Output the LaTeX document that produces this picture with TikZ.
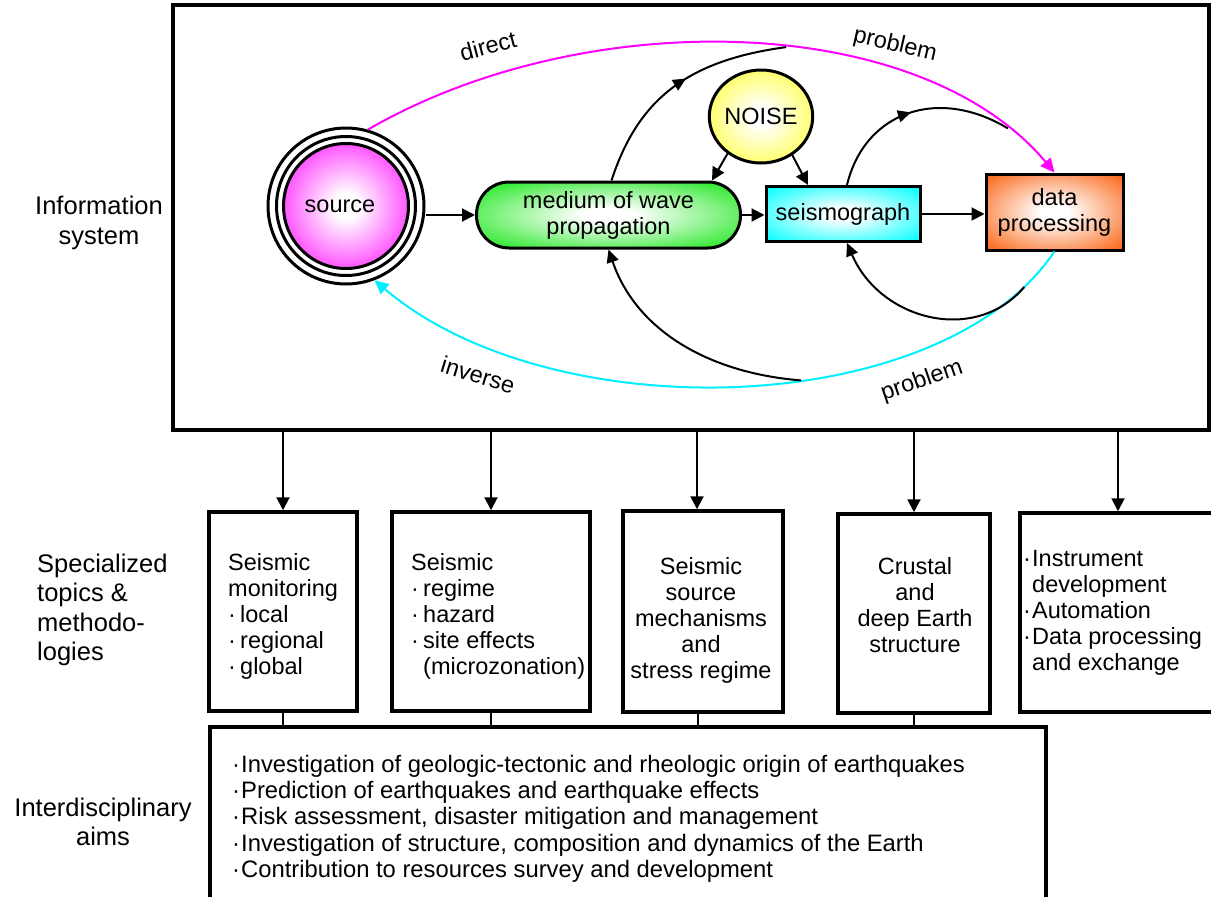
\documentclass[tikz,border=0pt]{standalone}
\usepackage{fontspec}
\setmainfont{Liberation Sans}
\usetikzlibrary{arrows.meta,shapes.geometric,decorations.markings,calc}
\definecolor{magc}{RGB}{255,0,255}
\definecolor{cyc}{RGB}{0,240,255}
\definecolor{grn}{RGB}{20,230,20}
\definecolor{cyn}{RGB}{0,255,255}
\definecolor{org}{RGB}{250,100,20}
\definecolor{ylw}{RGB}{255,255,40}
\colorlet{glowc}{white}
\pgfdeclareradialshading[glowc]{glow}{\pgfpoint{0bp}{0bp}}{color(0bp)=(white); color(5bp)=(white); color(35bp)=(glowc); color(50bp)=(glowc)}
\newcommand{\txtfont}{\fontsize{23.5pt}{26pt}\selectfont}
\newcommand{\aimsfont}{\fontsize{23.8pt}{26.2pt}\selectfont}
\newcommand{\lblfont}{\fontsize{25.5pt}{29.5pt}\selectfont}
\newcommand{\bula}{\makebox[12pt][l]{·}}
\newcommand{\bulb}{\makebox[9pt][l]{·}}
\begin{document}
\begin{tikzpicture}[x=1pt,y=-1pt,font=\txtfont,
  glow/.style={/utils/exec={\colorlet{glowc}{#1}},shade,shading=glow},
  line/.style={line width=2pt},
  arr/.style={line width=2pt,-{Triangle[length=13pt,width=13pt]}},
  bx/.style={draw,line width=3.5pt,rectangle,inner sep=0pt},
  nd/.style={draw,line width=3pt,inner sep=0pt},
  txt/.style={inner sep=0pt},
  midarr/.style={postaction={decorate},decoration={markings,mark=at position #1 with {\arrow{Triangle[length=13pt,width=12pt]}}}},
  thinl/.style={line width=1.5pt}]
\useasboundingbox (0,0) rectangle (1211,897);
\fill[white] (0,0) rectangle (1211,897);

% left labels
\node[font=\lblfont,align=center] (lab1) at (99,223) {Information\\system};
\node[font=\lblfont,align=left,anchor=west,inner sep=0pt] (lab2) at (37,610) {Specialized\\topics \&\\methodo-\\logies};
\node[font=\lblfont,align=center] (lab3) at (103,822) {Interdisciplinary\\aims};

% information system frame
\node[draw,line width=3.5pt,minimum width=1036pt,minimum height=425pt,inner sep=0pt] (sys) at (691,217.5) {};

% source
\node[circle,draw,line width=3pt,minimum size=156pt,inner sep=0pt] (src) at (346,206) {};
\draw[line width=3pt] (src.center) circle (69.5pt);
\shade[glow=magc] (src.center) circle (62.5pt);
\draw[line width=3pt] (src.center) circle (62.5pt);
\node[txt] (srct) at (340,206) {source};

% process nodes
\node[nd,glow=grn,rounded corners=32.5pt,minimum width=264pt,minimum height=66pt,align=center] (med) at (608.5,215) {medium of wave\\propagation};
\node[nd,glow=cyn,minimum width=154pt,minimum height=55pt] (seis) at (843,214) {seismograph};
\node[nd,glow=org,minimum width=137pt,minimum height=76pt,align=center] (dp) at (1054.5,212) {data\\processing};
\node[nd,ellipse,glow=ylw,minimum width=101pt,minimum height=93pt] (noise) at (761,116.5) {NOISE};

% main chain
\draw[arr] (src.east |- med.west) -- (med.west);
\draw[arr] (med.east) -- (seis.west |- med.east);
\draw[arr] (seis.east) -- (dp.west |- seis.east);
\draw[arr] (noise.228) -- ([xshift=-30pt]med.north east);
\draw[arr] (noise.309) -- ([xshift=-35pt]seis.north);

% direct / inverse problem curves
\draw[line,magc,-{Triangle[length=14pt,width=13pt]}] (src.74.5) .. controls (583,5) and (918,10) .. (dp.north)
  coordinate[pos=0.56] (m1) coordinate[pos=0.9] (m2);
\draw[line,cyc,-{Triangle[length=14pt,width=13pt]}] (dp.south) .. controls (940,421) and (551,430.5) .. (src.-69)
  coordinate[pos=0.075] (c2) coordinate[pos=0.42] (c1);

% feedback loops
\draw[line,midarr=0.55] ([xshift=3pt]med.north) .. controls (638,99) and (687.5,60.5) .. (m1);
\draw[line,-{Triangle[length=13pt,width=12pt]}] (c1) .. controls (708,373) and (636,330) .. (med.south);
\draw[line,midarr=0.5] ([xshift=4pt]seis.north) .. controls (864.5,112) and (938,86) .. (m2);
\draw[line,-{Triangle[length=13pt,width=12pt]}] (c2) .. controls (975,345) and (880,320) .. ([xshift=4pt]seis.south);

% curve labels
\node[rotate=15] (ldir) at (488,46) {direct};
\node[rotate=-13] (lpr1) at (895,45) {problem};
\node[rotate=-17] (linv) at (478,375) {inverse};
\node[rotate=19] (lpr2) at (922,381) {problem};

% topic boxes
\node[bx,minimum width=148pt,minimum height=199pt] (b1) at (283,611.5) {};
\node[bx,minimum width=198pt,minimum height=199pt] (b2) at (491,611.5) {};
\node[bx,minimum width=160pt,minimum height=201pt] (b3) at (703,611.5) {};
\node[bx,minimum width=152pt,minimum height=199pt] (b4) at (914,613.5) {};
\node[bx,minimum width=196pt,minimum height=199pt] (b5) at (1118,612.5) {};
\node[bx,minimum width=836pt,minimum height=200pt] (aims) at (628,827) {};

\node[txt,anchor=north west,align=left] (t1) at (228,553) {Seismic\\monitoring\\\bula local\\\bula regional\\\bula global};
\node[txt,anchor=north west,align=left] (t2) at (411,553) {Seismic\\\bula regime\\\bula hazard\\\bula site effects\\\hspace*{12pt}(microzonation)};
\node[txt,anchor=north,align=center] (t3) at (701,557) {Seismic\\source\\mechanisms\\and\\stress regime};
\node[txt,anchor=north,align=center] (t4) at (915,557) {Crustal\\and\\deep Earth\\structure};
\node[txt,anchor=north west,align=left] (t5) at (1023,550) {\bulb Instrument\\\hspace*{9pt}development\\\bulb Automation\\\bulb Data processing\\\hspace*{9pt}and exchange};
\node[txt,anchor=north west,align=left,font=\aimsfont] (t6) at (232,755) {\bulb Investigation of geologic-tectonic and rheologic origin of earthquakes\\\bulb Prediction of earthquakes and earthquake effects\\\bulb Risk assessment, disaster mitigation and management\\\bulb Investigation of structure, composition and dynamics of the Earth\\\bulb Contribution to resources survey and development};

% connectors frame -> boxes
\coordinate (a3) at ([xshift=-6pt]b3.north);
\coordinate (a3b) at ([xshift=-5pt]b3.south);
\draw[arr] (b1.north |- sys.south) -- (b1.north);
\draw[arr] (b2.north |- sys.south) -- (b2.north);
\draw[arr] (a3 |- sys.south) -- (a3);
\draw[arr] (b4.north |- sys.south) -- (b4.north);
\draw[arr] (b5.north |- sys.south) -- (b5.north);

% connectors boxes -> aims
\draw[thinl] (b1.south) -- (b1.south |- aims.north);
\draw[thinl] (b2.south) -- (b2.south |- aims.north);
\draw[thinl] (a3b) -- (a3b |- aims.north);
\draw[thinl] (b4.south) -- (b4.south |- aims.north);
\end{tikzpicture}
\end{document}
